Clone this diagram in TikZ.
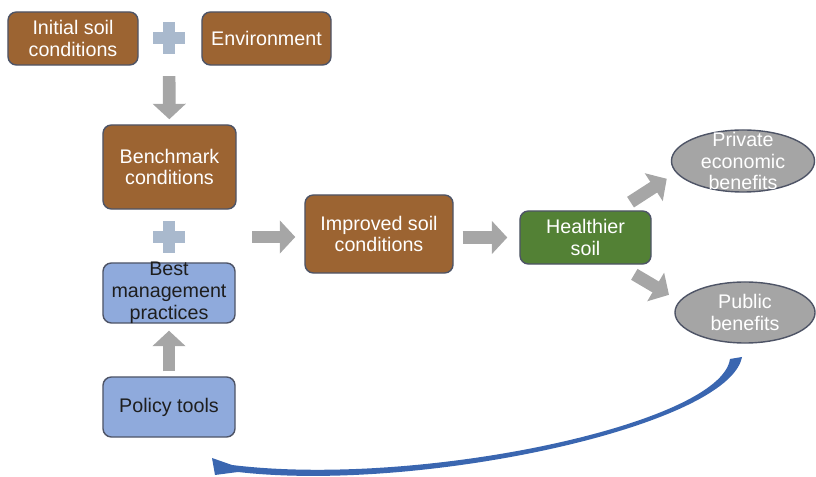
\documentclass[tikz,border=0pt]{standalone}
\usepackage{fontspec}
\setmainfont{Liberation Sans}
\usetikzlibrary{shapes.geometric,arrows.meta}

\definecolor{soilbrown}{HTML}{9C6432}
\definecolor{boxline}{HTML}{4E5466}
\definecolor{practiceblue}{HTML}{8FAADC}
\definecolor{healthygreen}{HTML}{538135}
\definecolor{benefitgrey}{HTML}{A5A5A5}
\definecolor{arrowgrey}{HTML}{A6A6A6}
\definecolor{plusgrey}{HTML}{A9B9CD}
\definecolor{loopblue}{HTML}{3A66B0}
\definecolor{textdark}{HTML}{1E1E1E}

\begin{document}
\begin{tikzpicture}[x=0.025cm,y=-0.025cm,thick,
    box/.style={rectangle,rounded corners=6pt,draw=boxline,line width=1pt,inner sep=0pt,align=center,font=\fontsize{14}{15.5}\selectfont},
    soil node/.style={box,fill=soilbrown,text=white},
    practice node/.style={box,fill=practiceblue,text=textdark},
    healthy node/.style={box,fill=healthygreen,text=white},
    benefit node/.style={ellipse,draw=boxline,line width=1pt,fill=benefitgrey,inner sep=0pt},
    inner text/.style={align=center,font=\fontsize{14}{15.5}\selectfont},
    block arrow/.style={draw=arrowgrey,line width=9pt,-{Triangle[width=23pt,length=11pt]}}]

            \useasboundingbox (0,0) rectangle (816,477);

            \node[soil node, minimum width=3.25cm, minimum height=1.325cm] (1) at (73,38.5) {Initial soil\\conditions};
            \node[soil node, minimum width=3.225cm, minimum height=1.325cm] (2) at (266.5,38.5) {Environment};
            \node[soil node, minimum width=3.325cm, minimum height=2.1cm] (3) at (169.5,167) {Benchmark\\conditions};
            \node[practice node, minimum width=3.3cm, minimum height=1.5cm,
                  label={[inner text,text=textdark]center:Best\\management\\practices}] (4) at (169,293) {};
            \node[practice node, minimum width=3.3cm, minimum height=1.5cm] (5) at (169,407) {Policy tools};
            \node[soil node, minimum width=3.7cm, minimum height=1.95cm] (6) at (379,234) {Improved soil\\conditions};
            \node[healthy node, minimum width=3.275cm, minimum height=1.325cm] (7) at (585.5,237.5) {Healthier\\soil};
            \node[benefit node, minimum width=3.575cm, minimum height=1.55cm,
                  label={[inner text,text=white]center:Private\\economic\\benefits}] (8) at (743,161) {};
            \node[benefit node, minimum width=3.5cm, minimum height=1.525cm,
                  label={[inner text,text=white]center:Public\\benefits}] (9) at (745,312.5) {};

            % plus signs
            \coordinate (p1) at (169,38.5);
            \coordinate (p2) at (169,237);
            \foreach \p in {p1,p2} {
                \fill[plusgrey] (\p) +(-16,-6) rectangle +(16,6);
                \fill[plusgrey] (\p) +(-6,-16) rectangle +(6,16);
            }

            \draw[block arrow, shorten <=0.94cm, shorten >=0.125cm] (p1) to (3);
            \draw[block arrow, shorten <=0.125cm, shorten >=0.175cm] (5) to (4);
            \draw[block arrow, shorten <=2.075cm, shorten >=0.225cm] (p2) to (p2 -| 6.west);
            \draw[block arrow, shorten <=0.225cm, shorten >=0.3cm] (7.west -| 6.east) to (7.west);
            \draw[block arrow, shorten <=0.375cm, shorten >=0.275cm] (7.40) to (8.190);
            \draw[block arrow, shorten <=0.475cm, shorten >=0.3cm] (7.-40) to (9.170);

            % loop back to the policy tools
            \fill[loopblue] (742,357) .. controls (729,426) and (421,493) .. (238,472)
                -- (215,475) -- (212,458) -- (232,465)
                .. controls (419,488) and (721,424) .. (730,359) -- cycle;

            ;
        \end{tikzpicture}
\end{document}
